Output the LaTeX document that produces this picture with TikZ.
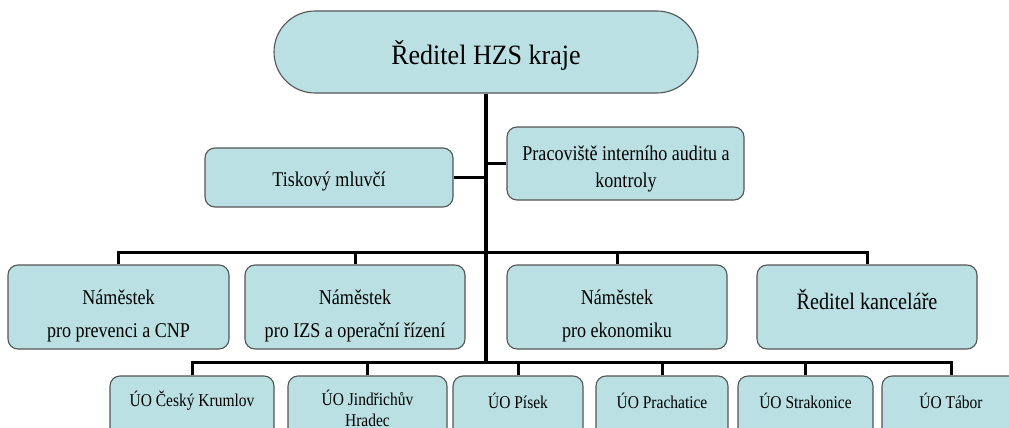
\documentclass[tikz,border=0pt]{standalone}
\usepackage{fontspec}
\setmainfont{Liberation Serif}[FakeStretch=0.86]
\newfontfamily\topfont{Liberation Serif}[FakeStretch=0.93]
\definecolor{boxfill}{RGB}{186,224,227}
\definecolor{boxline}{RGB}{85,85,85}
\tikzset{
  orgbox/.style={draw=boxline, fill=boxfill, line width=1.1pt, rounded corners=10pt, inner sep=0pt},
  conn/.style={line width=3pt, black},
  trunkline/.style={line width=3.6pt, black},
  txt/.style={align=center, inner sep=0pt, text=black},
  midtxt/.style={txt, font=\fontsize{21}{27}\selectfont},
  deptxt/.style={txt, font=\fontsize{21}{33}\selectfont},
  lowtxt/.style={txt, font=\fontsize{18}{21}\selectfont},
}
\begin{document}
\begin{tikzpicture}[x=1pt, y=-1pt]
\clip (0,0) rectangle (1009,428);
\fill[white] (0,0) rectangle (1009,428);
% boxes
\node[orgbox, rounded corners=41pt, minimum width=424pt, minimum height=82pt] (top) at (486,52) {};
\node[orgbox, minimum width=248pt, minimum height=59pt] (tisk) at (329,177.5) {};
\node[orgbox, minimum width=237pt, minimum height=73pt] (prac) at (625.5,163.5) {};
\node[orgbox, minimum width=221pt, minimum height=84pt] (n1) at (118.5,307) {};
\node[orgbox, minimum width=220pt, minimum height=84pt] (n2) at (355,307) {};
\node[orgbox, minimum width=220pt, minimum height=84pt] (n3) at (617,307) {};
\node[orgbox, minimum width=220pt, minimum height=84pt] (n4) at (867,307) {};
\node[orgbox, minimum width=164pt, minimum height=69pt] (u1) at (192,410.5) {};
\node[orgbox, minimum width=159pt, minimum height=69pt] (u2) at (367.5,410.5) {};
\node[orgbox, minimum width=130pt, minimum height=69pt] (u3) at (518,410.5) {};
\node[orgbox, minimum width=132pt, minimum height=69pt] (u4) at (662,410.5) {};
\node[orgbox, minimum width=135pt, minimum height=69pt] (u5) at (805.5,410.5) {};
\node[orgbox, minimum width=138pt, minimum height=69pt] (u6) at (951,410.5) {};
% texts
\node[txt, font=\topfont\fontsize{28}{32}\selectfont] (ttop) at (486,55) {Ředitel HZS kraje};
\node[midtxt] (ttisk) at (329,181) {Tiskový mluvčí};
\node[midtxt] (tprac) at (626,169) {Pracoviště interního auditu a\\kontroly};
\node[deptxt] (tn1) at (118.5,315.5) {Náměstek\\pro prevenci a CNP};
\node[deptxt] (tn2) at (355,315.5) {Náměstek\\pro IZS a operační řízení};
\node[deptxt] (tn3) at (617,315.5) {Náměstek\\pro ekonomiku};
\node[txt, font=\fontsize{23.5}{28}\selectfont] (tn4) at (867,300) {Ředitel kanceláře};
\node[lowtxt] (tu1) at (192,401) {ÚO Český Krumlov};
\node[lowtxt] (tu2) at (367.5,408.5) {ÚO Jindřichův\\Hradec};
\node[lowtxt] (tu3) at (518,401) {ÚO Písek};
\node[lowtxt] (tu4) at (662,401) {ÚO Prachatice};
\node[lowtxt] (tu5) at (805.5,401) {ÚO Strakonice};
\node[lowtxt] (tu6) at (951,401) {ÚO Tábor};
% connectors
\coordinate (b2) at (486,252);
\coordinate (b3) at (486,362);
\draw[trunkline] (top.south) -- (b3);
\draw[conn] (tisk.east) -- (tisk.east -| b2);
\draw[conn] (prac.west) -- (prac.west -| b2);
\draw[conn] (n1.north) |- (b2) -| (n4.north);
\draw[conn] (n2.north) -- (n2.north |- b2);
\draw[conn] (n3.north) -- (n3.north |- b2);
\draw[conn] (u1.north) |- (b3) -| (u6.north);
\draw[conn] (u2.north) -- (u2.north |- b3);
\draw[conn] (u3.north) -- (u3.north |- b3);
\draw[conn] (u4.north) -- (u4.north |- b3);
\draw[conn] (u5.north) -- (u5.north |- b3);
\end{tikzpicture}
\end{document}
